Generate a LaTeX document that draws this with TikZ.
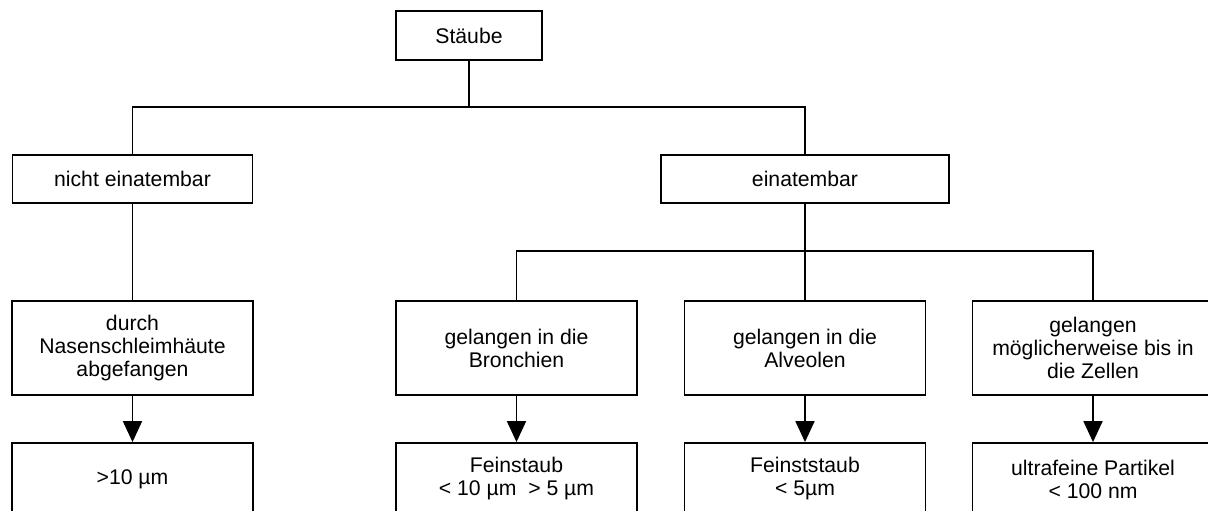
\documentclass[tikz,border=0pt]{standalone}
\usepackage{fontspec}
\setmainfont{Liberation Sans}
\usetikzlibrary{arrows.meta}

\begin{document}
\begin{tikzpicture}[x=1pt,y=-1pt,
  box/.style={draw,line width=1.8pt,align=center,inner sep=2pt,
    font=\fontsize{21.2pt}{23pt}\selectfont},
  wire/.style={line width=1.8pt},
  arr/.style={line width=1.8pt,-{Triangle[length=21pt,width=19pt]}}]
\useasboundingbox (0,0) rectangle (1208,511);
\clip (0,0) rectangle (1208,511);
% top levels
\node[box,minimum width=146pt,minimum height=49pt] (stb) at (469,35.5) {Stäube};
\node[box,minimum width=240pt,minimum height=48pt] (nein) at (132.5,179) {nicht einatembar};
\node[box,minimum width=288pt,minimum height=48pt] (ein) at (805,179) {einatembar};
% middle row
\foreach \n/\cx/\t in {durch/132.5/{durch\\Nasenschleimhäute\\abgefangen},
    bron/516.5/{gelangen in die\\Bronchien},
    alv/805/{gelangen in die\\Alveolen},
    zell/1093/{gelangen\\möglicherweise bis in\\die Zellen}} {
  \node[box,minimum width=241pt,minimum height=94pt] (\n) at (\cx,348) {\t};
}
% bottom row, cut off by the page
\foreach \n/\cx/\t in {g10/132.5/{>10 µm},
    fein/516.5/{Feinstaub\\< 10 µm\ \ > 5 µm},
    feinst/805/{Feinststaub\\< 5µm},
    ultra/1093/{ultrafeine Partikel\\< 100 nm}} {
  \node[box,minimum width=241pt,minimum height=72pt] (\n) at (\cx,479) {\t};
}
\coordinate (j1) at (469,107);
\coordinate (j2) at (805,251);
\draw[wire] (stb) -- (j1);
\draw[wire] (nein.north) |- (j1) -| (ein.north);
\draw[wire] (nein) -- (durch);
\draw[wire] (ein) -- (j2);
\draw[wire] (bron.north) |- (j2) -| (zell.north);
\draw[wire] (j2) -- (alv.north);
\foreach \a/\b in {durch/g10,bron/fein,alv/feinst,zell/ultra}
  \draw[arr] (\a) -- (\b);
\end{tikzpicture}
\end{document}
